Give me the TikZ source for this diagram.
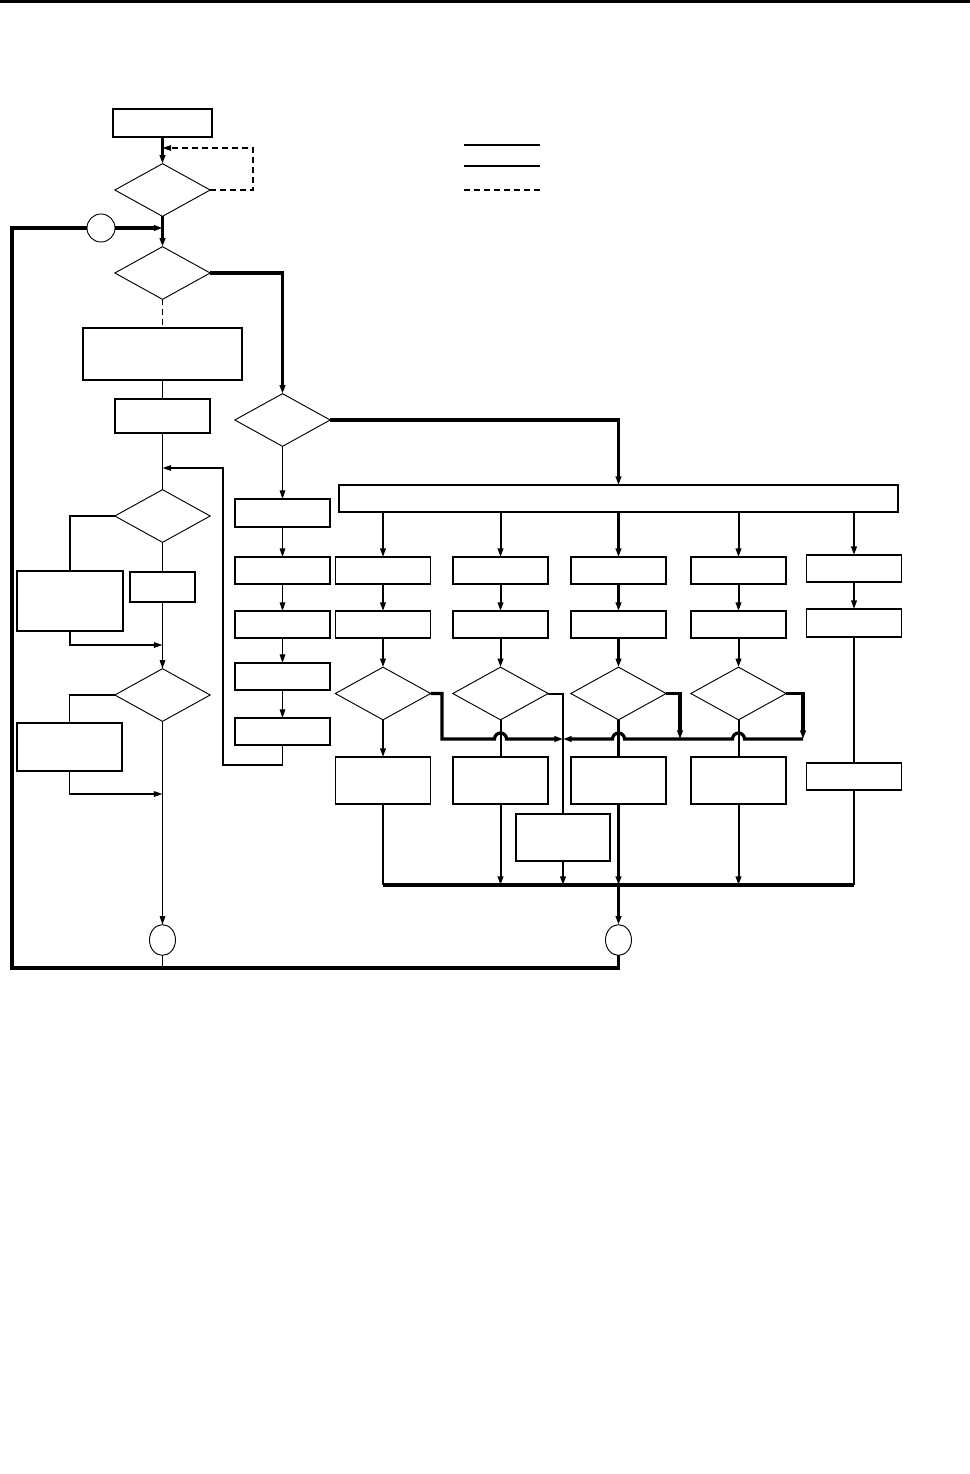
\documentclass[tikz,border=0pt]{standalone}
\usetikzlibrary{arrows.meta,shapes.geometric}
\newcommand\mybox[5]{\node[box,minimum width={(#4-#2)*0.75pt},minimum height={(#5-#3)*0.75pt}] (#1) at ({(#2+#4)/2},{(#3+#5)/2}) {};}
\newcommand\mydia[3]{\node[dia] (#1) at (#2,#3) {};}
\begin{document}
\begin{tikzpicture}[x=0.75pt,y=-0.75pt,
  tip/.style={-{Triangle[length=6.5pt,width=4.2pt]}},
  thinl/.style={line width=0.95pt},
  medl/.style={line width=1.5pt},
  thickl/.style={line width=2.4pt},
  dashl/.style={line width=0.95pt,dash pattern=on 4.5pt off 3pt},
  box/.style={draw,rectangle,line width=0.95pt,inner sep=0pt,outer sep=0pt},
  dia/.style={draw,diamond,line width=0.7pt,inner sep=0pt,outer sep=0pt,minimum width=71.5pt,minimum height=39.5pt},
  conn/.style={draw,line width=0.7pt,inner sep=0pt,outer sep=0pt},
]
\useasboundingbox (0,0) rectangle (970,1474);
\fill (0,0) rectangle (970,2.5);

% legend
\coordinate (L1a) at (464,145); \coordinate (L1b) at (540,145);
\coordinate (L2a) at (464,166); \coordinate (L2b) at (540,166);
\coordinate (L3a) at (464,190); \coordinate (L3b) at (540,190);
\draw[line width=1.7pt] (L1a) -- (L1b);
\draw[thinl] (L2a) -- (L2b);
\draw[dashl] (L3a) -- (L3b);

% left column
\mybox{start}{113}{109}{212}{137}
\mydia{d1}{162.5}{190}
\node[conn,circle,minimum size=21pt] (cA) at (101,228) {};
\mydia{d2}{162.5}{273}
\mybox{b2}{83}{328}{242}{380}
\mybox{b3}{115}{399}{210}{433}
\mydia{d4}{162.5}{516}
\mybox{b4L}{17}{571}{123}{631}
\mybox{b4R}{130}{572}{195}{602}
\mydia{d5}{162.5}{695}
\mybox{b5L}{17}{723}{122}{771}
\node[conn,ellipse,minimum width=19.5pt,minimum height=23pt] (cC) at (162.5,940) {};

% middle column
\mydia{d3}{282.5}{420}
\mybox{m1}{235}{499}{330}{527}
\mybox{m2}{235}{557}{330}{584}
\mybox{m3}{235}{611}{330}{638}
\mybox{m4}{235}{663}{330}{690}
\mybox{m5}{235}{718}{330}{745}

% right part
\mybox{wide}{339}{485}{898}{512}
\mybox{r1a}{335.5}{557}{430.5}{584}
\mybox{r1b}{453}{557}{548}{584}
\mybox{r1c}{571}{557}{666}{584}
\mybox{r1d}{691}{557}{786}{584}
\mybox{r1e}{806.5}{555}{901.5}{582}
\mybox{r2a}{335.5}{611}{430.5}{638}
\mybox{r2b}{453}{611}{548}{638}
\mybox{r2c}{571}{611}{666}{638}
\mybox{r2d}{691}{611}{786}{638}
\mybox{r2e}{806.5}{609}{901.5}{637}
\mydia{dA}{383}{693.5}
\mydia{dB}{500.5}{693.5}
\mydia{dC}{618.5}{693.5}
\mydia{dD}{738.5}{693.5}
\mybox{r3a}{335.5}{757}{430.5}{804}
\mybox{r3b}{453}{757}{548}{804}
\mybox{r3c}{571}{757}{666}{804}
\mybox{r3d}{691}{757}{786}{804}
\mybox{r3e}{806.5}{763}{901.5}{790}
\mybox{rX}{516}{814}{610}{861}
\node[conn,ellipse,minimum width=19.5pt,minimum height=23pt] (cB) at (618.5,940) {};

% coordinates
\coordinate (dj) at (162.5,148);
\coordinate (jA) at (162.5,228);
\coordinate (jL) at (162.5,468);
\coordinate (lp) at (223,765);
\coordinate (j4) at (162.5,645);
\coordinate (j5) at (162.5,794);
\coordinate (bl) at (12,968);
\coordinate (mJ) at (563,739);
\coordinate (cj3) at (680,739);
\coordinate (cj4) at (803,739);
\coordinate (cl1) at (383,885);
\coordinate (cl5) at (854,885);

% left connectors
\draw[thickl,tip] (start.south) -- (d1.north);
\draw[dashl,tip] (d1.east) -- (253,190) |- (dj);
\draw[thickl,tip] (d1.south) -- (d2.north);
\draw[thickl,tip] (cA.east) -- (jA);
\draw[thickl] (cB.south) |- (bl) |- (cA.west);
\draw[thickl,tip] (d2.east) -| (d3.north);
\draw[dashl] (d2.south) -- (b2.north);
\draw[thinl] (b2.south) -- (b3.north);
\draw[thinl] (b3.south) -- (d4.north);
\draw[thinl,tip] (m5.south) |- (lp) |- (jL);
\draw[thinl] (d4.west) -| (b4L.north);
\draw[thinl,tip] (b4L.south) |- (j4);
\draw[thinl] (d4.south) -- (b4R.north);
\draw[thinl,tip] (b4R.south) -- (d5.north);
\draw[thinl] (d5.west) -| (b5L.north);
\draw[thinl,tip] (b5L.south) |- (j5);
\draw[thinl,tip] (d5.south) -- (cC.north);
\draw[thinl] (cC.south) -- (cC.south |- bl);

% middle connectors
\draw[thinl,tip] (d3.south) -- (m1.north);
\draw[thinl,tip] (m1.south) -- (m2.north);
\draw[thinl,tip] (m2.south) -- (m3.north);
\draw[thinl,tip] (m3.south) -- (m4.north);
\draw[thinl,tip] (m4.south) -- (m5.north);

% right connectors
\draw[thickl,tip] (d3.east) -| (wide.north);
\foreach \c in {a,b,d,e}{
  \draw[medl,tip] (wide.south -| r1\c.north) -- (r1\c.north);
  \draw[medl,tip] (r1\c.south) -- (r2\c.north);
}
\draw[thickl,tip] (wide.south -| r1c.north) -- (r1c.north);
\draw[thickl,tip] (r1c.south) -- (r2c.north);
\draw[medl,tip] (r2a.south) -- (dA.north);
\draw[medl,tip] (r2b.south) -- (dB.north);
\draw[thickl,tip] (r2c.south) -- (dC.north);
\draw[medl,tip] (r2d.south) -- (dD.north);
\draw[medl] (r2e.south) -- (r3e.north);

\draw[medl,tip] (dA.south) -- (r3a.north);
\draw[medl] (dB.south) -- (r3b.north);
\draw[thickl] (dC.south) -- (r3c.north);
\draw[medl] (dD.south) -- (r3d.north);

\draw[thickl,tip] (dA.east) -- (442,693.5) -- (442,739) -- (494.5,739)
  arc[start angle=180,end angle=360,radius=6] -- (mJ);
\draw[medl] (dB.east) -| (rX.north);
\draw[thickl,tip] (dC.east) -| (cj3);
\draw[thickl,tip] (dD.east) -| (cj4);
\draw[thickl,tip] (cj4) -- (744.5,739) arc[start angle=0,end angle=-180,radius=6]
  -- (624.5,739) arc[start angle=0,end angle=-180,radius=6] -- (mJ);

% collector
\draw[medl] (r3a.south) -- (cl1);
\draw[thickl] (cl1) -- (cl5);
\draw[medl] (r3e.south) -- (cl5);
\draw[medl,tip] (r3b.south) -- (r3b.south |- cl1);
\draw[medl,tip] (rX.south) -- (rX.south |- cl1);
\draw[thickl,tip] (r3c.south) -- (r3c.south |- cl1);
\draw[thickl,tip] (r3c.south |- cl1) -- (cB.north);
\draw[medl,tip] (r3d.south) -- (r3d.south |- cl1);
\end{tikzpicture}
\end{document}
